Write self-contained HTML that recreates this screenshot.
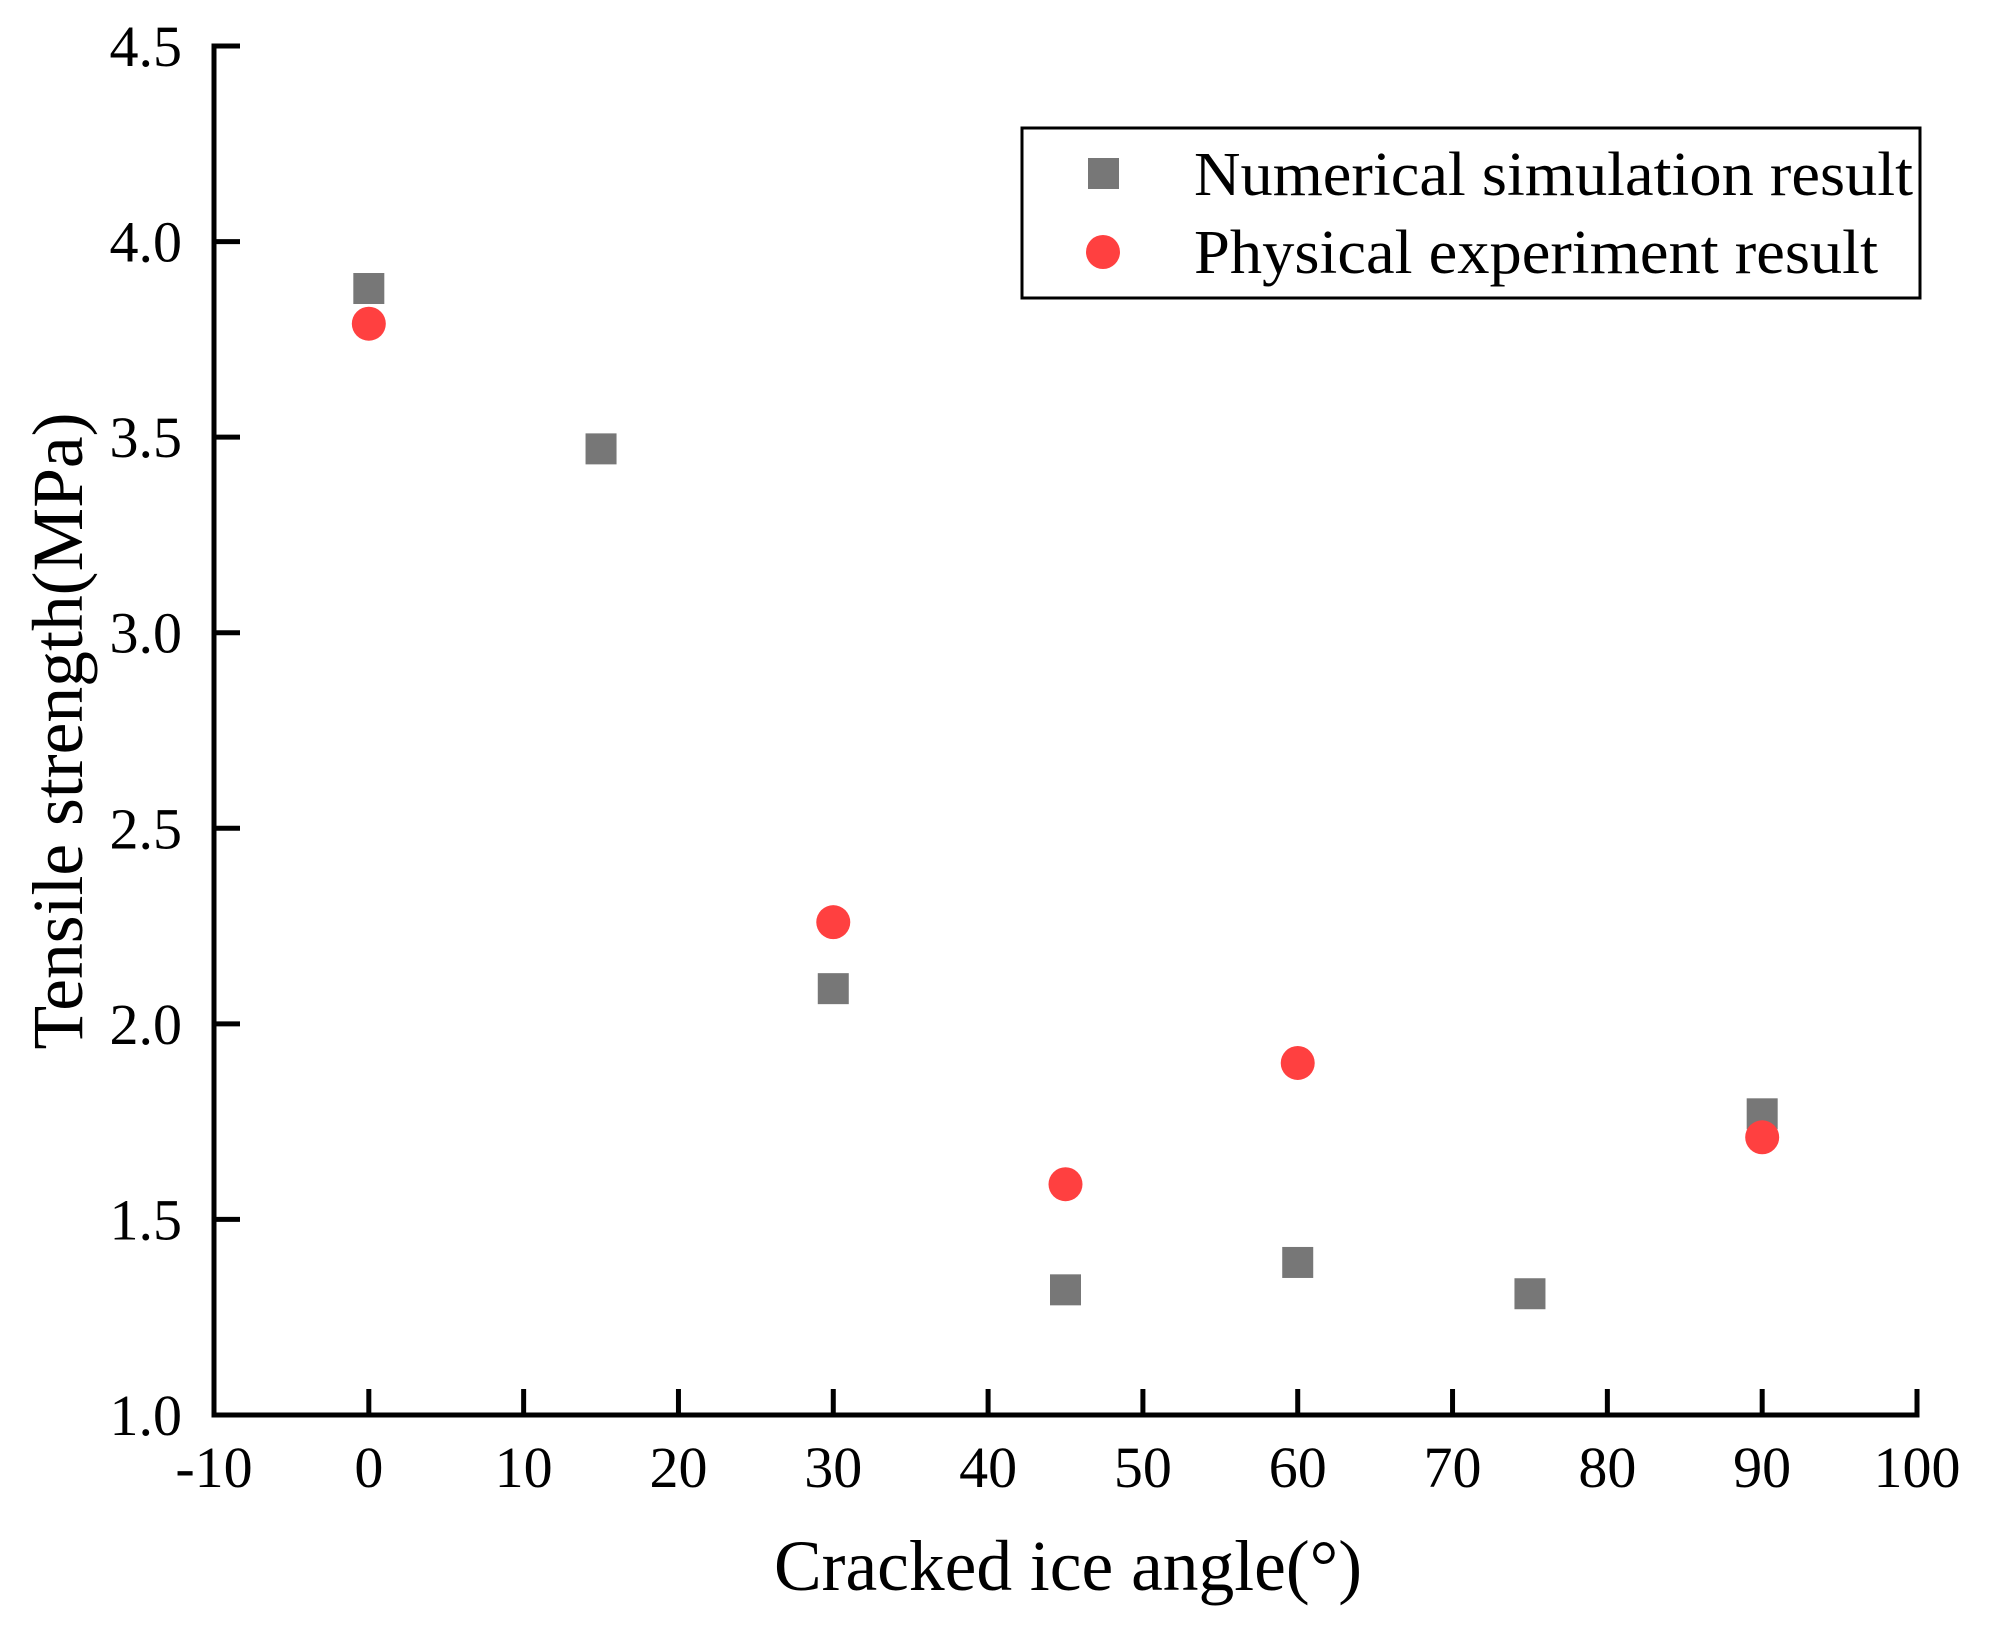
<!DOCTYPE html>
<html><head><meta charset="utf-8"><style>
html,body{margin:0;padding:0;background:#fff;}
svg{display:block;font-family:"Liberation Serif","Times New Roman",serif;}
</style></head><body>
<svg id="chart" width="1991" height="1627" viewBox="0 0 1991 1627" xmlns="http://www.w3.org/2000/svg">
<g id="marks"></g>
<g id="axes"></g>
<text x="1068" y="1590" font-size="72" text-anchor="middle" textLength="588" lengthAdjust="spacingAndGlyphs">Cracked ice angle(°)</text>
<text transform="translate(82,731) rotate(-90)" font-size="72" text-anchor="middle" textLength="637" lengthAdjust="spacingAndGlyphs">Tensile strength(MPa)</text>
<g>
<rect x="1022" y="128" width="898" height="170" fill="#fff" stroke="#000" stroke-width="3"/>
<rect x="1088" y="158" width="31" height="31" fill="#777777"/>
<text x="1194" y="195" font-size="62" textLength="719" lengthAdjust="spacingAndGlyphs">Numerical simulation result</text>
<ellipse cx="1103" cy="252" rx="17" ry="17" fill="#ff4040"/>
<text x="1194" y="273" font-size="62" textLength="684" lengthAdjust="spacingAndGlyphs">Physical experiment result</text>
</g>
</svg>
<script>
const numX = [0, 15, 30, 45, 60, 75, 90];
const numY = [3.88, 3.47, 2.09, 1.32, 1.39, 1.31, 1.77];
const phyX = [0, 30, 45, 60, 90];
const phyY = [3.79, 2.26, 1.59, 1.90, 1.71];
const xTicks = [-10, 0, 10, 20, 30, 40, 50, 60, 70, 80, 90, 100];
const yTicks = [1.0, 1.5, 2.0, 2.5, 3.0, 3.5, 4.0, 4.5];

const X0 = 214, X1 = 1917, Y0 = 1415, Y1 = 46;
function sx(v){ return X0 + (v - (-10)) / 110 * (X1 - X0); }
function sy(v){ return Y0 - (v - 1.0) / 3.5 * (Y0 - Y1); }
const NS = "http://www.w3.org/2000/svg";
const marks = document.getElementById('marks');
const axes = document.getElementById('axes');
function mk(tag, attrs, parent){
  const e = document.createElementNS(NS, tag);
  for (const k in attrs) e.setAttribute(k, attrs[k]);
  parent.appendChild(e);
  return e;
}
let l = mk('path', {d: `M${X0},${Y1} L${X0},${Y0} L${X1},${Y0}`, fill:'none', stroke:'#000', 'stroke-width':5, 'stroke-linecap':'square'}, axes);


xTicks.forEach(t => {
  const x = sx(t);
  const tk = mk('line', {x1:x, x2:x, y1:Y0, y2:Y0-26, stroke:'#000', 'stroke-width':5}, axes);
  
  
  const tx = mk('text', {x:x, y:1487, 'font-size':58, 'text-anchor':'middle'}, axes);
  tx.textContent = String(t);
  
  
});
yTicks.forEach(t => {
  const y = sy(t);
  const tk = mk('line', {x1:X0, x2:X0+26, y1:y, y2:y, stroke:'#000', 'stroke-width':5}, axes);
  
  
  const tx = mk('text', {x:182, y:y+20, 'font-size':58, 'text-anchor':'end'}, axes);
  tx.textContent = t.toFixed(1);
  
  
});
numX.forEach((v, i) => {
  const r = mk('rect', {x: sx(v)-15.5, y: sy(numY[i])-15.5, width:31, height:31, fill:'#777777'}, marks);
  
  
});
phyX.forEach((v, i) => {
  const c = mk('ellipse', {cx: sx(v), cy: sy(phyY[i]), rx:17, ry:17, fill:'#ff4040'}, marks);
  
  
});
</script>
</body></html>
